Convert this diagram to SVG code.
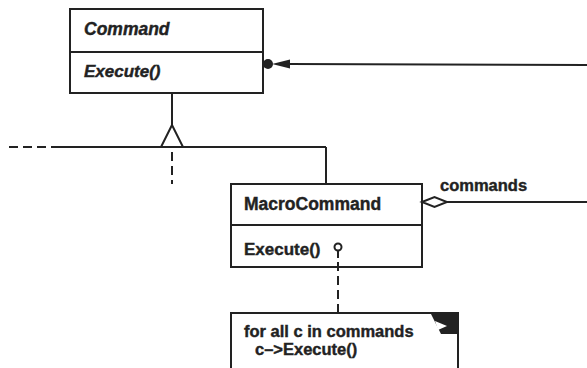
<svg xmlns="http://www.w3.org/2000/svg" width="587" height="368" viewBox="0 0 587 368">
<style>
.box{fill:#fff;stroke:#222;stroke-width:2}
.ln{fill:none;stroke:#222;stroke-width:2}
.dash{fill:none;stroke:#222;stroke-width:2;stroke-dasharray:9 5}
.t{font-family:"Liberation Sans",Arial,sans-serif;font-weight:bold;fill:#222;stroke:#222;stroke-width:0.4}
</style>
<rect width="587" height="368" fill="#fff"/>
<g id="command">
  <rect class="box" x="70" y="9" width="193" height="84"/>
  <line class="ln" x1="70" y1="52" x2="263" y2="52"/>
  <text class="t" x="84" y="35" font-size="17.5" font-style="italic">Command</text>
  <text class="t" x="84" y="77" font-size="17" font-style="italic">Execute()</text>
</g>
<g id="macrocommand">
  <rect class="box" x="231" y="184" width="191" height="83"/>
  <line class="ln" x1="231" y1="225" x2="422" y2="225"/>
  <text class="t" x="244" y="210" font-size="17.5">MacroCommand</text>
  <text class="t" x="244" y="255" font-size="17">Execute()</text>
</g>
<g id="note">
  <rect class="box" x="231" y="313" width="227" height="60"/>
  <polygon points="430,312 459,312 459,334 441,334" fill="#222"/>
  <polygon points="435,321 447,326 438,330" fill="#fff"/>
  <text class="t" x="244" y="337" font-size="16.5">for all c in commands</text>
  <text class="t" x="255" y="355" font-size="16.5">c–&gt;Execute()</text>
</g>
<g id="connectors">
  <line class="ln" x1="172" y1="93" x2="172" y2="125"/>
  <polygon points="172,125 161,147 183,147" fill="#fff" stroke="#222" stroke-width="2"/>
  <line class="ln" x1="55" y1="147" x2="326" y2="147"/>
  <line class="dash" x1="9" y1="147" x2="55" y2="147"/>
  <line class="dash" x1="172" y1="152" x2="172" y2="184" stroke-dasharray="8 4"/>
  <line class="ln" x1="326" y1="147" x2="326" y2="184"/>
  <line class="ln" x1="289" y1="64" x2="587" y2="65"/>
  <circle cx="268" cy="64" r="5" fill="#222"/>
  <polygon points="272,64 290,59.5 290,68.5" fill="#222"/>
  <line class="ln" x1="447" y1="202" x2="587" y2="202"/>
  <polygon points="422,202 434.5,197 447,202 434.5,207" fill="#fff" stroke="#222" stroke-width="2"/>
  <text class="t" x="440" y="191" font-size="16.5">commands</text>
  <circle cx="338" cy="247" r="3.5" fill="#fff" stroke="#222" stroke-width="2"/>
  <line class="ln" x1="338" y1="250.5" x2="338" y2="258"/>
  <line class="dash" x1="338" y1="262" x2="338" y2="313" stroke-dasharray="8 4"/>
</g>
</svg>
